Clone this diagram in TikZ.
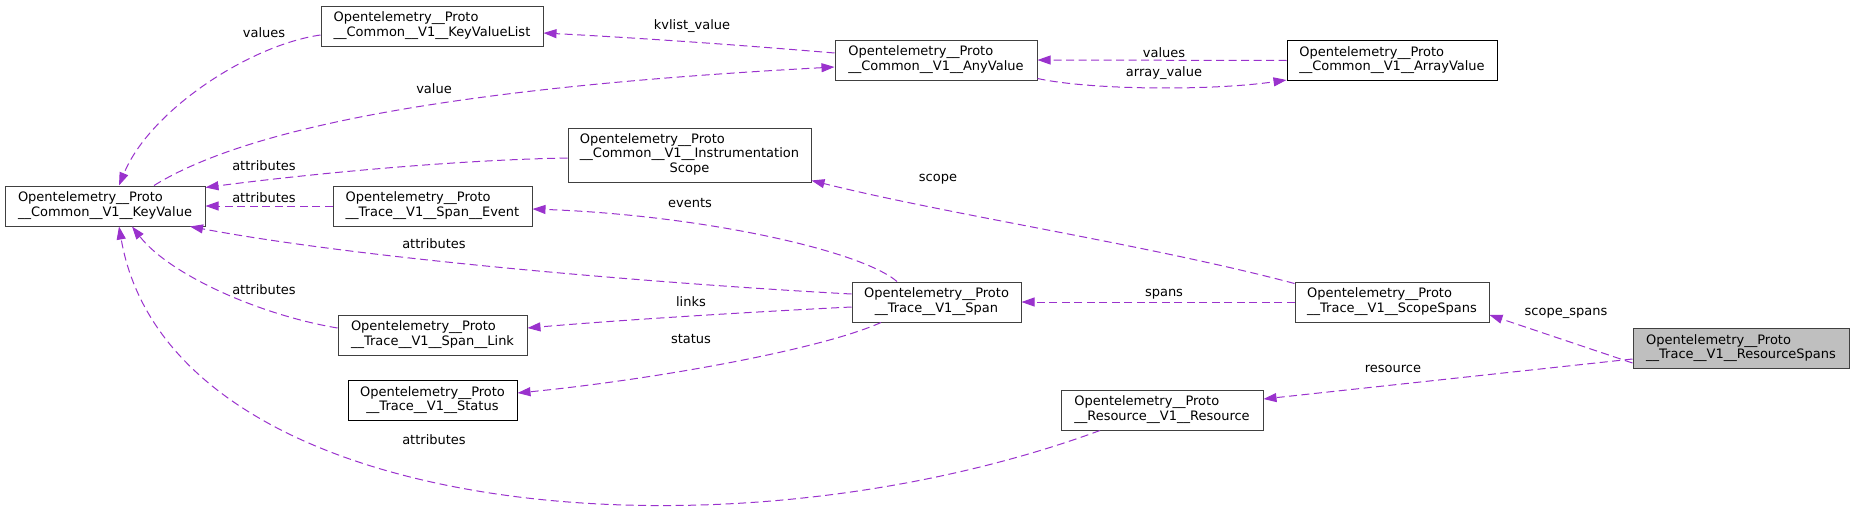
\documentclass[tikz,border=0pt]{standalone}
\usepackage{fontspec}
\setmainfont{DejaVu Sans}
\usetikzlibrary{arrows.meta}
\definecolor{edgec}{HTML}{9A32CD}
\definecolor{boxc}{HTML}{404040}
\definecolor{rootc}{HTML}{BFBFBF}
\newcommand\boxtxt[2]{\begin{tabular}{@{}l@{}}#1\\\multicolumn{1}{@{}c@{}}{#2}\end{tabular}}
\newcommand\boxtxtiii[3]{\begin{tabular}{@{}l@{}}#1\\#2\\\multicolumn{1}{@{}c@{}}{#3}\end{tabular}}
\newcommand\OP{Opentelemetry\_\_Proto}
\begin{document}
\begin{tikzpicture}[x=1pt,y=-1pt,font=\fontsize{13}{14.5}\selectfont,
  cls/.style={draw=boxc, line width=1pt, fill=white, inner sep=0pt, minimum height=40pt},
  lbl/.style={inner sep=0pt},
  edge/.style={draw=edgec, line width=1pt, dash pattern=on 8pt off 4.5pt, -{Triangle[length=13pt,width=9pt]}}]
\useasboundingbox (0,0) rectangle (1853,514);
% nodes
\node[cls, minimum width=222pt] (kvl) at (432,26) {\boxtxt{\OP}{\_\_Common\_\_V1\_\_KeyValueList}};
\node[cls, minimum width=200pt] (kv) at (105,206) {\boxtxt{\OP}{\_\_Common\_\_V1\_\_KeyValue}};
\node[cls, minimum width=199pt] (ev) at (432.5,206) {\boxtxt{\OP}{\_\_Trace\_\_V1\_\_Span\_\_Event}};
\node[cls, minimum width=243pt, minimum height=54pt] (ins) at (689.5,155) {\boxtxtiii{\OP}{\_\_Common\_\_V1\_\_Instrumentation}{Scope}};
\node[cls, minimum width=202pt] (any) at (936,60) {\boxtxt{\OP}{\_\_Common\_\_V1\_\_AnyValue}};
\node[cls, draw=black, minimum width=210pt] (arr) at (1392,60.5) {\boxtxt{\OP}{\_\_Common\_\_V1\_\_ArrayValue}};
\node[cls, minimum width=189pt] (lnk) at (432.5,335) {\boxtxt{\OP}{\_\_Trace\_\_V1\_\_Span\_\_Link}};
\node[cls, draw=black, minimum width=169pt] (sta) at (432.5,400.5) {\boxtxt{\OP}{\_\_Trace\_\_V1\_\_Status}};
\node[cls, minimum width=169pt] (spn) at (936.5,302) {\boxtxt{\OP}{\_\_Trace\_\_V1\_\_Span}};
\node[cls, minimum width=202pt] (res) at (1162,410) {\boxtxt{\OP}{\_\_Resource\_\_V1\_\_Resource}};
\node[cls, minimum width=194pt] (scs) at (1392,302) {\boxtxt{\OP}{\_\_Trace\_\_V1\_\_ScopeSpans}};
\node[cls, fill=rootc, minimum width=216pt] (rsp) at (1741,348.5) {\boxtxt{\OP}{\_\_Trace\_\_V1\_\_ResourceSpans}};
% edges
\draw[edge] ([yshift=-9pt]kvl.west) .. controls (250,45) and (150,110) .. ([xshift=14pt]kv.north);
\draw[edge] ([yshift=7pt]any.west) .. controls (740,45) and (640,38) .. ([yshift=-7pt]kvl.east);
\draw[edge] ([xshift=49pt]kv.north) .. controls (260,120) and (500,85) .. ([yshift=-7pt]any.west);
\draw[edge] (arr.west) -- (any.east);
\draw[edge] ([yshift=2pt]any.south east) .. controls (1090,90) and (1210,91) .. ([yshift=1pt]arr.south west);
\draw[edge] ([yshift=-3pt]ins.west) .. controls (450,160) and (300,175) .. ([yshift=-2pt]kv.north east);
\draw[edge] (ev.west) -- (kv.east);
\draw[edge] ([xshift=-39.5pt]spn.north) .. controls (860,250) and (700,215) .. ([yshift=-3pt]ev.east);
\draw[edge] ([yshift=8pt]spn.west) .. controls (700,286) and (380,262) .. ([xshift=85pt]kv.south);
\draw[edge] ([yshift=-5pt]spn.west) .. controls (750,312) and (620,320) .. ([yshift=7pt]lnk.east);
\draw[edge] ([xshift=-55.5pt]spn.south) .. controls (820,350) and (650,380) .. ([yshift=7.5pt]sta.east);
\draw[edge] (scs.west) -- (spn.east);
\draw[edge] ([yshift=-2pt]scs.north west) .. controls (1150,245) and (950,215) .. ([yshift=2pt]ins.south east);
\draw[edge] ([yshift=-14.5pt]rsp.west) -- ([yshift=-13pt]scs.east);
\draw[edge] ([yshift=-10.5pt]rsp.west) -- ([yshift=11pt]res.east);
\draw[edge] ([yshift=7pt]lnk.west) .. controls (260,315) and (170,275) .. ([xshift=27pt]kv.south);
\draw[edge] ([xshift=-62pt]res.south) .. controls (720,570) and (170,520) .. ([xshift=14pt]kv.south);
% labels
\node[lbl] (l1) at (264,33) {values};
\node[lbl] (l2) at (692,26) {kvlist\_value};
\node[lbl] (l3) at (434,89) {value};
\node[lbl] (l4) at (1164,53) {values};
\node[lbl] (l5) at (1164,73) {array\_value};
\node[lbl] (l6) at (264,166) {attributes};
\node[lbl] (l7) at (264,198) {attributes};
\node[lbl] (l8) at (690,203) {events};
\node[lbl] (l9) at (434,244) {attributes};
\node[lbl] (l10) at (264,290) {attributes};
\node[lbl] (l11) at (691,302) {links};
\node[lbl] (l12) at (691,339) {status};
\node[lbl] (l13) at (1164,294) {spans};
\node[lbl] (l14) at (938,179) {scope};
\node[lbl] (l15) at (1566,313) {scope\_spans};
\node[lbl] (l16) at (1393,369) {resource};
\node[lbl] (l17) at (434,440) {attributes};
\end{tikzpicture}
\end{document}
